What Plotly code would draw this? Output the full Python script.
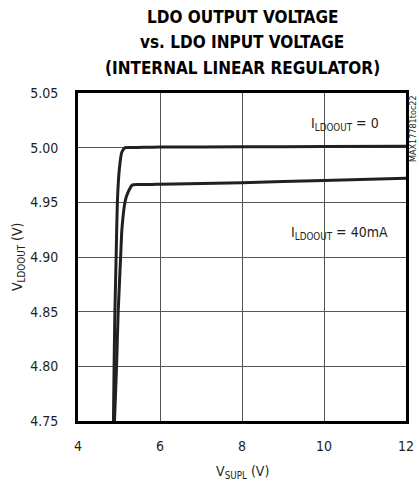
import plotly.graph_objects as go

# ============================================================
# DATA
# ============================================================
VSUPL_0MA = [4.865, 4.88, 4.90, 4.93, 4.96, 5.01, 5.07, 5.15, 5.3, 5.6, 6.0, 8.0, 10.0, 12.0]
VOUT_0MA = [4.75, 4.80, 4.85, 4.90, 4.95, 4.981, 4.996, 5.000, 5.0002, 5.0003, 5.0005, 5.0008, 5.001, 5.0012]

VSUPL_40MA = [4.89, 4.94, 4.98, 5.04, 5.07, 5.15, 5.23, 5.33, 5.5, 5.8, 6.0, 8.0, 10.0, 12.0]
VOUT_40MA = [4.75, 4.80, 4.85, 4.90, 4.925, 4.951, 4.960, 4.966, 4.9663, 4.9664, 4.9665, 4.968, 4.970, 4.972]

X_TICKS = [4, 6, 8, 10, 12]
Y_TICKS = [4.75, 4.80, 4.85, 4.90, 4.95, 5.00, 5.05]

FONT = "DejaVu Sans Condensed, Liberation Sans Narrow, Arial Narrow, sans-serif"
LINE_COLOR = "#231f20"
PLOT_H = 328  # tinggi area plot (px)

fig = go.Figure()

for xs, ys in [(VSUPL_0MA, VOUT_0MA), (VSUPL_40MA, VOUT_40MA)]:
    fig.add_trace(go.Scatter(
        x=xs,
        y=ys,
        mode="lines",
        line=dict(color=LINE_COLOR, width=3, shape="spline", smoothing=0.5),
        showlegend=False,
        hoverinfo="skip"
    ))

# ===== JUDUL =====
title_lines = ["LDO OUTPUT VOLTAGE", "vs. LDO INPUT VOLTAGE", "(INTERNAL LINEAR REGULATOR)"]
for i, t in enumerate(title_lines):
    fig.add_annotation(
        text=f"<b>{t}</b>",
        xref="paper", yref="paper",
        x=0.5, y=1 + (75.5 - 25 * i) / PLOT_H,
        xanchor="center", yanchor="middle",
        showarrow=False,
        font=dict(family=FONT, size=17, color="#000")
    )

# ===== JUDUL SUMBU =====
fig.add_annotation(
    text="V<sub>SUPL</sub> (V)",
    xref="paper", yref="paper",
    x=0.5, y=0, yshift=-51,
    xanchor="center", yanchor="middle",
    showarrow=False,
    font=dict(family=FONT, size=14, color="#231f20")
)
fig.add_annotation(
    text="V<sub>LDOOUT</sub> (V)",
    xref="paper", yref="paper",
    x=0, y=0.5, xshift=-60,
    xanchor="center", yanchor="middle",
    textangle=-90,
    showarrow=False,
    font=dict(family=FONT, size=14, color="#231f20")
)

# ===== LABEL KURVA =====
fig.add_annotation(
    text="I<sub>LDOOUT</sub> = 0",
    x=10.5, y=5.0216,
    showarrow=False,
    font=dict(family=FONT, size=14, color="#231f20")
)
fig.add_annotation(
    text="I<sub>LDOOUT</sub> = 40mA",
    x=10.38, y=4.922,
    showarrow=False,
    font=dict(family=FONT, size=14, color="#231f20")
)
fig.add_annotation(
    text="MAX17781toc22",
    xref="paper", yref="paper",
    x=1.02, y=1.0,
    xanchor="center", yanchor="top",
    textangle=-90,
    showarrow=False,
    font=dict(family=FONT, size=9, color="#231f20")
)

# ===== LAYOUT =====
fig.update_layout(
    width=419,
    height=487,
    margin=dict(l=78, r=13, t=93, b=66),
    plot_bgcolor="white",
    paper_bgcolor="white",
    font=dict(family=FONT, size=14, color="#231f20"),
    xaxis=dict(
        range=[4, 12],
        tickvals=X_TICKS,
        ticktext=[str(v) for v in X_TICKS],
        showgrid=True,
        gridcolor="#555",
        gridwidth=1,
        zeroline=False,
        showline=True,
        linecolor="#000",
        linewidth=3,
        mirror=True,
        ticks="",
        ticklabelstandoff=10,
        automargin=False,
    ),
    yaxis=dict(
        range=[4.75, 5.05],
        tickvals=Y_TICKS,
        ticktext=[f"{v:.2f}" for v in Y_TICKS],
        showgrid=True,
        gridcolor="#555",
        gridwidth=1,
        zeroline=False,
        showline=True,
        linecolor="#000",
        linewidth=3,
        mirror=True,
        ticks="",
        ticklabelstandoff=14,
        automargin=False,
    ),
)

# buang margin bawaan body supaya gambar pas di jendela
fig.write_html(
    "out.html",
    config={"displayModeBar": False},
    post_script="document.body.style.margin='0';"
)
